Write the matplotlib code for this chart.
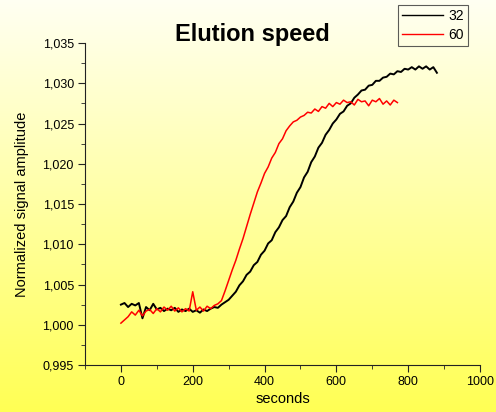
import matplotlib
matplotlib.use("Agg")
import matplotlib.pyplot as plt
import numpy as np
from matplotlib.ticker import MultipleLocator, FuncFormatter

plt.rcParams['font.family'] = ['Liberation Sans', 'DejaVu Sans']

# values, one every 10 s
t32 = list(range(0, 890, 10))
v32 = [1.0025, 1.0027, 1.0022, 1.0026, 1.0024, 1.0027, 1.0008, 1.0022, 1.0018, 1.0026,
       1.0019, 1.0021, 1.0017, 1.0020, 1.0018, 1.0021, 1.0016, 1.0019, 1.0017, 1.0020,
       1.0016, 1.0018, 1.0015, 1.0019, 1.0017, 1.0020, 1.0022, 1.0021, 1.0025, 1.0028,
       1.0031, 1.0036, 1.0041, 1.0049, 1.0054, 1.0062, 1.0066, 1.0074, 1.0078, 1.0087,
       1.0092, 1.0101, 1.0105, 1.0115, 1.0121, 1.0130, 1.0135, 1.0146, 1.0153, 1.0164,
       1.0171, 1.0183, 1.0190, 1.0202, 1.0209, 1.0220, 1.0226, 1.0236, 1.0242, 1.0250,
       1.0255, 1.0262, 1.0265, 1.0272, 1.0275, 1.0282, 1.0286, 1.0291, 1.0292, 1.0297,
       1.0298, 1.0303, 1.0303, 1.0307, 1.0308, 1.0312, 1.0311, 1.0315, 1.0314, 1.0318,
       1.0317, 1.0320, 1.0317, 1.0321, 1.0318, 1.0321, 1.0317, 1.0320, 1.0313]

t60 = list(range(0, 780, 10))
v60 = [1.0002, 1.0006, 1.0010, 1.0016, 1.0012, 1.0018, 1.0011, 1.0017, 1.0019, 1.0014,
       1.0020, 1.0016, 1.0022, 1.0018, 1.0023, 1.0017, 1.0021, 1.0016, 1.0020, 1.0017,
       1.0041, 1.0018, 1.0022, 1.0017, 1.0023, 1.0020, 1.0024, 1.0026, 1.0030, 1.0042,
       1.0055, 1.0068, 1.0080, 1.0094, 1.0107, 1.0122, 1.0137, 1.0151, 1.0165, 1.0176,
       1.0188, 1.0196, 1.0207, 1.0214, 1.0225, 1.0231, 1.0241, 1.0247, 1.0252, 1.0254,
       1.0258, 1.0260, 1.0264, 1.0263, 1.0268, 1.0265, 1.0271, 1.0269, 1.0275, 1.0271,
       1.0276, 1.0274, 1.0279, 1.0276, 1.0277, 1.0273, 1.0280, 1.0277, 1.0278, 1.0272,
       1.0279, 1.0277, 1.0281, 1.0274, 1.0278, 1.0273, 1.0279, 1.0276]

fig = plt.figure(figsize=(4.96, 4.12), dpi=100)

# yellow gradient background
bg = fig.add_axes([0, 0, 1, 1], zorder=0)
grad = np.linspace(0, 1, 256).reshape(-1, 1)
top = np.array([1.0, 1.0, 0.95])
bot = np.array([1.0, 1.0, 0.33])
img = top + (bot - top) * grad[:, :, None]
bg.imshow(img, aspect='auto', extent=[0, 1, 0, 1])
bg.axis('off')

ax = fig.add_axes([85/496, 1-365/412, 395/496, 322/412], zorder=1)
ax.patch.set_alpha(0)
ax.plot(t32, v32, color='black', lw=1.4, label='32')
ax.plot(t60, v60, color='red', lw=1.1, label='60')

ax.set_xlim(-100, 1000)
ax.set_ylim(0.995, 1.035)
ax.xaxis.set_major_locator(MultipleLocator(200))
ax.xaxis.set_minor_locator(MultipleLocator(100))
ax.yaxis.set_major_locator(MultipleLocator(0.005))
ax.yaxis.set_minor_locator(MultipleLocator(0.0025))
ax.yaxis.set_major_formatter(FuncFormatter(lambda v, p: f"{v:.3f}".replace('.', ',')))
ax.set_xticks([0, 200, 400, 600, 800, 1000])

for s in ['top', 'right']:
    ax.spines[s].set_visible(False)
for s in ['left', 'bottom']:
    ax.spines[s].set_color('#222222')
ax.tick_params(which='major', length=5, labelsize=9, color='#222222', pad=3)
ax.tick_params(which='minor', length=3, color='#222222')

ax.set_xlabel('seconds', fontsize=10.5, labelpad=3)
ax.set_ylabel('Normalized signal amplitude', fontsize=10.5, labelpad=10)

fig.text(252/496, 1-34/412, 'Elution speed', fontsize=17, fontweight='bold',
         ha='center', va='center')

leg = ax.legend(loc='upper right', bbox_to_anchor=(468/496, 1-5/412),
                bbox_transform=fig.transFigure, fontsize=10, frameon=True,
                fancybox=False, edgecolor='#333333', facecolor='none',
                handlelength=2.9, borderpad=0.3, labelspacing=0.35, handletextpad=0.4,
                borderaxespad=0)
leg.get_frame().set_linewidth(0.8)
for line in leg.get_lines():
    line.set_linewidth(1.0)

fig.savefig('out.png', dpi=100)
